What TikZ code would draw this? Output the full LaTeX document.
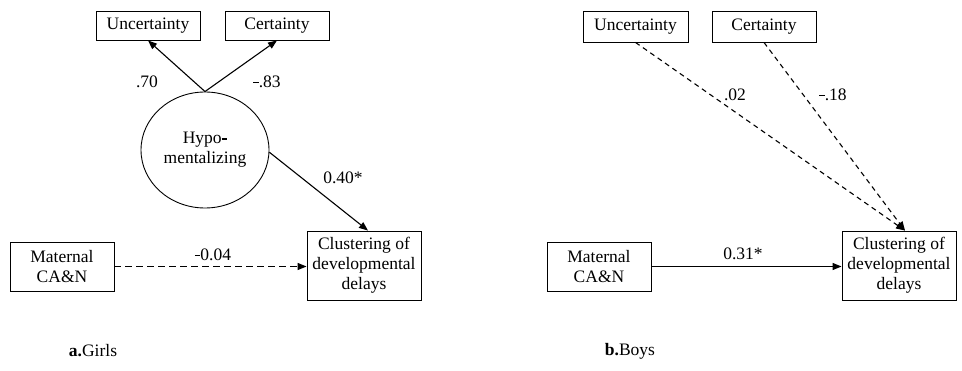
\documentclass[tikz,border=0pt]{standalone}
\usepackage{fontspec}
\setmainfont{Liberation Serif}
\usetikzlibrary{arrows.meta,shapes.geometric}
\newcommand\thickminus{\rule[0.24em]{0.32em}{0.085em}}
\begin{document}
\begin{tikzpicture}[x=1pt,y=-1pt,
  font=\fontsize{17.5}{20}\selectfont,
  box/.style={draw,line width=0.9pt,inner sep=0pt,align=center},
  arr/.style={line width=1.1pt,-{Triangle[length=9pt,width=7pt]}},
  dsh/.style={arr,dash pattern=on 7pt off 4pt},
  lbl/.style={inner sep=0pt}]
\useasboundingbox (0,0) rectangle (962,371);
% ---- panel a (Girls)
\node[box,minimum width=104pt,minimum height=29pt] (unA) at (148,25.5) {Uncertainty};
\node[box,minimum width=104pt,minimum height=29pt] (ceA) at (277,25.5) {Certainty};
\node[draw,line width=0.9pt,ellipse,minimum width=128pt,minimum height=116pt,inner sep=0pt,align=center] (hyp) at (205,150) {Hypo\thickminus\\mentalizing};
\node[box,minimum width=104pt,minimum height=49pt] (matA) at (62,266.5) {Maternal\\CA\&N};
\node[box,minimum width=114pt,minimum height=69pt] (clA) at (364,265.5) {Clustering of\\developmental\\delays};
\draw[arr] (hyp.north) -- (unA.south);
\draw[arr] (hyp.north) -- (ceA.south);
\draw[arr] (hyp.-2) -- ([xshift=4pt]clA.north);
\draw[dsh] (matA.east) -- (clA.west |- matA.east);
\node[lbl] (l70) at (147,82) {.70};
\node[lbl] (l83) at (267,82) {\thickminus.83};
\node[lbl] (l40) at (343,178) {0.40*};
\node[lbl] (l04) at (213,255) {\thickminus0.04};
\node[lbl] (capA) at (93,351) {{\bfseries a.}Girls};
% ---- panel b (Boys)
\node[box,minimum width=105pt,minimum height=31pt] (unB) at (635.5,26.5) {Uncertainty};
\node[box,minimum width=104pt,minimum height=31pt] (ceB) at (764,26.5) {Certainty};
\node[box,minimum width=104pt,minimum height=49pt] (matB) at (599,266.5) {Maternal\\CA\&N};
\node[box,minimum width=114pt,minimum height=69pt] (clB) at (899,265.5) {Clustering of\\developmental\\delays};
\coordinate (tipB) at ([xshift=6pt]clB.north);
\draw[dsh,dash pattern=on 5pt off 4pt] (unB.south) -- (tipB);
\draw[dsh,dash pattern=on 5pt off 4pt] (ceB.south) -- (tipB);
\draw[arr] (matB.east) -- (clB.west |- matB.east);
\node[lbl] (l02) at (735,95) {.02};
\node[lbl] (l18) at (833,95) {\thickminus.18};
\node[lbl] (l31) at (743,254) {0.31*};
\node[lbl] (capB) at (630,351) {{\bfseries b.}Boys};
\end{tikzpicture}
\end{document}
